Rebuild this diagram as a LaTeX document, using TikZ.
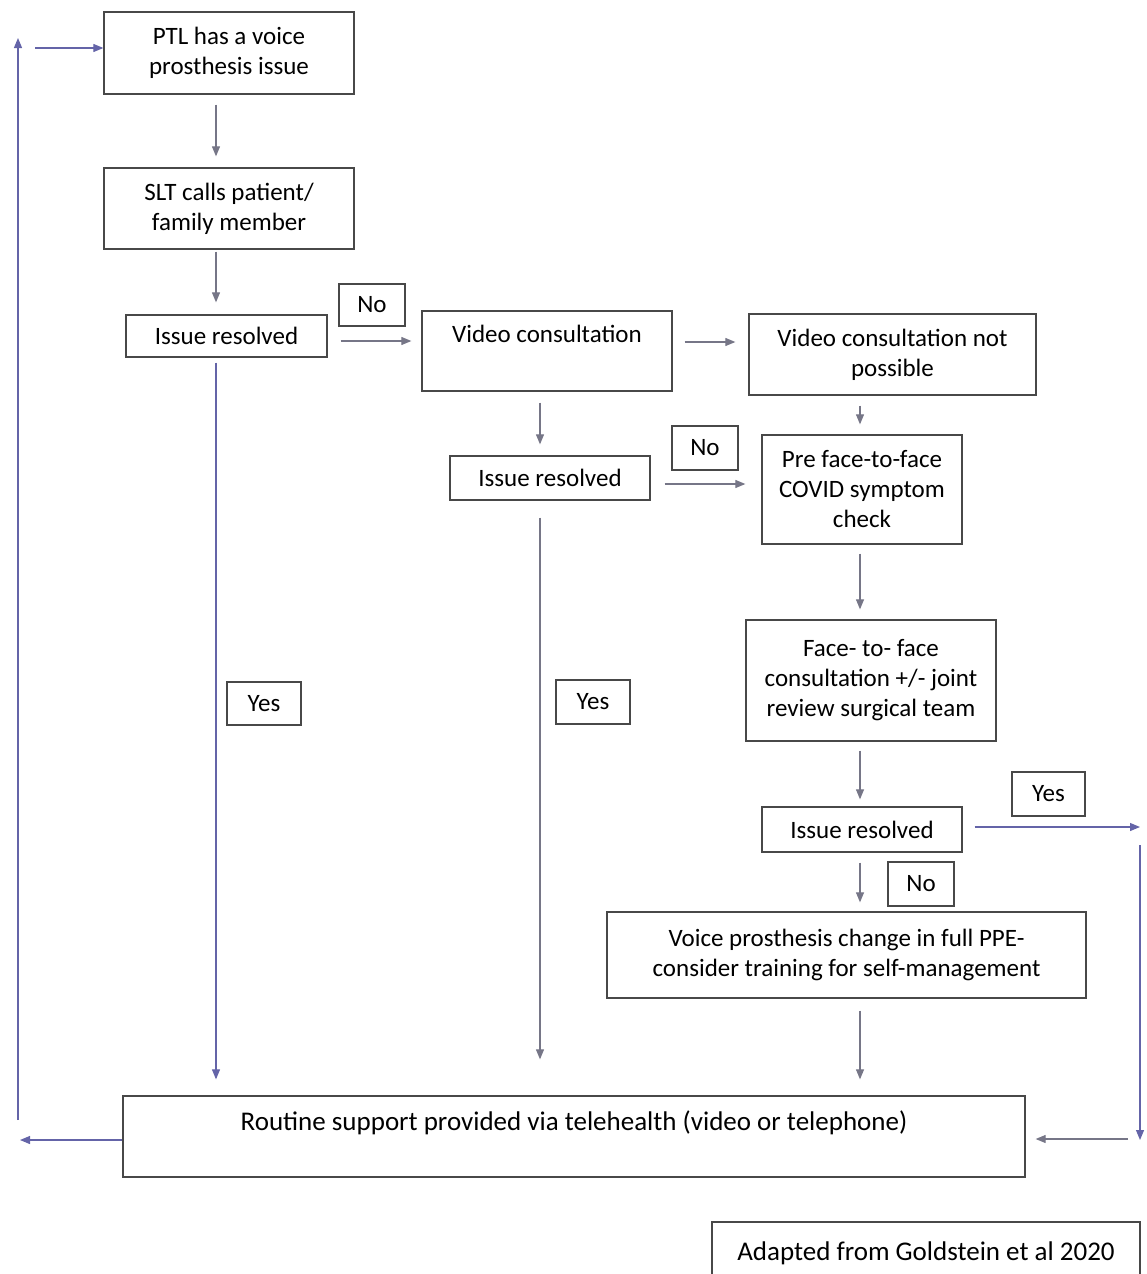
\documentclass[tikz,border=0pt]{standalone}
\usepackage{fontspec}
\setmainfont{Carlito}
\usetikzlibrary{positioning, arrows.meta, calc}
\definecolor{linegray}{RGB}{118,118,135}
\definecolor{loopblue}{RGB}{100,100,168}
\definecolor{boxgray}{RGB}{72,72,72}

\begin{document}
\begin{tikzpicture}[x=1pt, y=-1pt,
  box/.style={draw=boxgray, line width=1.3pt, inner sep=0pt, align=center, font=\fontsize{25}{30}\selectfont},
  bigbox/.style={box, font=\fontsize{27}{32}\selectfont},
  toptext/.style={text height=16pt, text depth=34pt},
  flow/.style={draw=linegray, line width=1.1pt, -{Triangle[length=10pt, width=8pt]}},
  loop/.style={flow, draw=loopblue}]
\useasboundingbox (0,0) rectangle (1146,1274);

% Boxes
\node[box, minimum width=250, minimum height=82] (ptl) at (229,53) {PTL has a voice\\prosthesis issue};
\node[box, minimum width=250, minimum height=81] (slt) at (229,208.5) {SLT calls patient/\\family member};
\node[box, minimum width=201, minimum height=42] (res1) at (226.5,336) {Issue resolved};
\node[box, minimum width=250, minimum height=80, toptext] (video) at (547,351) {Video consultation};
\node[box, minimum width=287, minimum height=81] (vnp) at (892.5,354.5) {Video consultation not\\possible};
\node[box, minimum width=200, minimum height=44] (res2) at (550,478) {Issue resolved};
\node[box, minimum width=200, minimum height=109] (pre) at (862,489.5) {Pre face-to-face\\COVID symptom\\check};
\node[box, minimum width=250, minimum height=121] (f2f) at (871,680.5) {Face- to- face\\consultation +/- joint\\review surgical team};
\node[box, minimum width=200, minimum height=45] (res3) at (862,829.5) {Issue resolved};
\node[box, minimum width=479, minimum height=86] (vpc) at (846.5,955) {Voice prosthesis change in full PPE-\\consider training for self-management};
\node[bigbox, minimum width=902, minimum height=81, text height=18pt, text depth=30pt] (rout) at (574,1136.5) {Routine support provided via telehealth (video or telephone)};
\node[bigbox, minimum width=428, minimum height=62] (src) at (926,1253) {Adapted from Goldstein et al 2020};

% Yes / No labels
\node[box, minimum width=66, minimum height=42] (no1) at (372,305) {No};
\node[box, minimum width=66, minimum height=44] (no2) at (705,448) {No};
\node[box, minimum width=66, minimum height=44] (no3) at (921,884) {No};
\node[box, minimum width=74, minimum height=43] (yes1) at (264,703.5) {Yes};
\node[box, minimum width=74, minimum height=44] (yes2) at (593,702) {Yes};
\node[box, minimum width=73, minimum height=44] (yes3) at (1048.5,794) {Yes};

% Loop points
\coordinate (rtop) at (1140,827);
\coordinate (rmid) at (1140,845);
\coordinate (rbot) at (1140,1140);
\coordinate (rin) at (1128,1139);
\coordinate (lbot) at (20,1140);
\coordinate (lup) at (18,1120);
\coordinate (ltop) at (18,38);
\coordinate (lin) at (35,48);

% Connectors
\draw[flow] ($(ptl.south)+(-13,10)$) -- ($(slt.north)+(-13,-11)$);
\draw[flow] ($(slt.south)+(-13,2)$) -- ($(res1.north)+(-10.5,-12)$);
\draw[flow] ($(res1.east)+(13,5)$) -- ($(video.west)+(-10,-10)$);
\draw[flow] ($(video.east)+(12,-9)$) -- ($(vnp.west)+(-13,-12.5)$);
\draw[flow] ($(video.south)+(-7,11)$) -- ($(res2.north)+(-10,-11)$);
\draw[flow] ($(vnp.south)+(-32.5,10)$) -- ($(pre.north)+(-2,-10)$);
\draw[flow] ($(res2.east)+(14,6)$) -- ($(pre.west)+(-16,-5.5)$);
\draw[flow] ($(pre.south)+(-2,9)$) -- ($(f2f.north)+(-11,-10)$);
\draw[flow] ($(f2f.south)+(-11,9)$) -- ($(res3.north)+(-2,-7)$);
\draw[flow] ($(res3.south)+(-2,10)$) -- ($(vpc.north)+(13.5,-9)$);
\draw[flow] ($(vpc.south)+(13.5,12)$) -- ($(rout.north -| vpc.south)+(13.5,-16)$);
\draw[loop] ($(res1.south)+(-10.5,5)$) -- ($(rout.north -| res1.south)+(-10.5,-16)$);
\draw[flow] ($(res2.south)+(-10,17)$) -- ($(rout.north -| res2.south)+(-10,-36)$);
\draw[loop] ($(res3.east)+(12,-2.5)$) -- (rtop);
\draw[loop] (rmid) -- (rbot);
\draw[flow] (rin) -- ($(rout.east)+(10,2.5)$);
\draw[loop] ($(rout.west)+(0,3.5)$) -- (lbot);
\draw[loop] (lup) -- (ltop);
\draw[loop] (lin) -- ($(ptl.west)+(0,-5)$);
\end{tikzpicture}
\end{document}
